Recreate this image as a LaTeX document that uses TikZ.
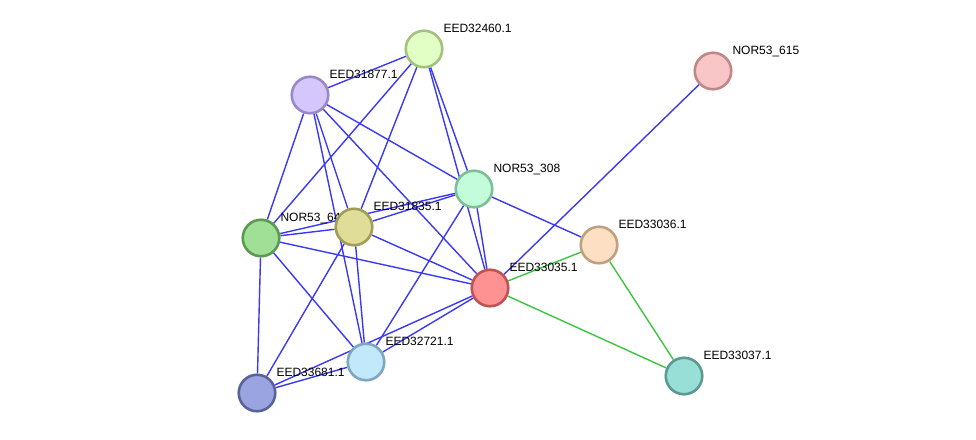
\documentclass[tikz,border=0pt]{standalone}
\usepackage{fontspec}
\setmainfont{Liberation Sans}
\usepackage{xcolor}
\usetikzlibrary{positioning, backgrounds}

\definecolor{linkblue}{HTML}{3A3AF4}
\definecolor{linkgreen}{HTML}{3EC43E}
\definecolor{fA}{HTML}{E2FFC6} \definecolor{bA}{HTML}{A2C27E}
\definecolor{fB}{HTML}{D5C6FB} \definecolor{bB}{HTML}{9A89C6}
\definecolor{fC}{HTML}{F8C6C6} \definecolor{bC}{HTML}{BF8888}
\definecolor{fD}{HTML}{C2FCDA} \definecolor{bD}{HTML}{7EBF98}
\definecolor{fE}{HTML}{DFDD98} \definecolor{bE}{HTML}{A09E56}
\definecolor{fF}{HTML}{A0E096} \definecolor{bF}{HTML}{5B9A50}
\definecolor{fG}{HTML}{FDDFC3} \definecolor{bG}{HTML}{C0A17F}
\definecolor{fH}{HTML}{FE9191} \definecolor{bH}{HTML}{BF5252}
\definecolor{fI}{HTML}{C2E8FC} \definecolor{bI}{HTML}{7FA6BF}
\definecolor{fJ}{HTML}{9AA4E0} \definecolor{bJ}{HTML}{59639A}
\definecolor{fK}{HTML}{98E0D7} \definecolor{bK}{HTML}{5A9A91}

\begin{document}
\begin{tikzpicture}[x=1pt, y=-1pt,
    prot/.style={draw, circle, minimum size=36.5pt, line width=2.6pt, inner sep=0pt},
    tag/.style={inner sep=0pt, text height=9pt, text depth=0pt, font=\fontsize{12}{14}\selectfont},
    link/.style={line width=1.4pt, draw=linkblue},
    hom/.style={line width=1.4pt, draw=linkgreen}]

    \begin{scope}[on background layer]
        \fill[white] (0,0) rectangle (976,439);
    \end{scope}
    \useasboundingbox (0,0) rectangle (976,439);

    % proteins
    \node[prot, fill=fA, draw=bA] (eed32460) at (424,49) {};
    \node[tag, above right=2.5pt and 5.5pt of eed32460] {EED32460.1};
    \node[prot, fill=fB, draw=bB] (eed31877) at (310,95) {};
    \node[tag, above right=2.5pt and 5.5pt of eed31877] {EED31877.1};
    \node[prot, fill=fC, draw=bC] (nor615) at (713,71) {};
    \node[tag, above right=2.5pt and 5.5pt of nor615] {NOR53\_615};
    \node[prot, fill=fD, draw=bD] (nor308) at (474,189) {};
    \node[tag, above right=2.5pt and 5.5pt of nor308] {NOR53\_308};
    \node[prot, fill=fF, draw=bF] (nor64) at (261,238) {};
    \node[tag, above right=2.5pt and 5.5pt of nor64] {NOR53\_64};
    \node[prot, fill=fE, draw=bE] (eed31835) at (354,227) {};
    \node[tag, above right=2.5pt and 5.5pt of eed31835] {EED31835.1};
    \node[prot, fill=fG, draw=bG] (eed33036) at (599,245) {};
    \node[tag, above right=2.5pt and 5.5pt of eed33036] {EED33036.1};
    \node[prot, fill=fH, draw=bH] (eed33035) at (490,288) {};
    \node[tag, above right=2.5pt and 5.5pt of eed33035] {EED33035.1};
    \node[prot, fill=fI, draw=bI] (eed32721) at (366,362) {};
    \node[tag, above right=2.5pt and 5.5pt of eed32721] {EED32721.1};
    \node[prot, fill=fJ, draw=bJ] (eed33681) at (257,393) {};
    \node[tag, above right=2.5pt and 5.5pt of eed33681] {EED33681.1};
    \node[prot, fill=fK, draw=bK] (eed33037) at (684,376) {};
    \node[tag, above right=2.5pt and 5.5pt of eed33037] {EED33037.1};

    % interactions
    \begin{scope}[on background layer]
        \draw[link] (eed31877) -- (eed32460);
        \draw[link] (eed31877) -- (nor64);
        \draw[link] (eed31877) -- (eed31835);
        \draw[link] (eed31877) -- (eed32721);
        \draw[link] (eed31877) -- (eed33035);
        \draw[link] (eed31877) -- (nor308);
        \draw[link] (eed32460) -- (nor64);
        \draw[link] (eed32460) -- (eed31835);
        \draw[link] (eed32460) -- (nor308);
        \draw[link] (eed32460) -- (eed33035);
        \draw[link] (nor64) -- (eed31835);
        \draw[link] (nor64) -- (nor308);
        \draw[link] (nor64) -- (eed33035);
        \draw[link] (nor64) -- (eed32721);
        \draw[link] (nor64) -- (eed33681);
        \draw[link] (eed31835) -- (eed33035);
        \draw[link] (eed31835) -- (eed33681);
        \draw[link] (eed31835) -- (eed32721);
        \draw[link] (eed31835) -- (nor308);
        \draw[link] (nor308) -- (eed33036);
        \draw[link] (nor308) -- (eed33035);
        \draw[link] (nor308) -- (eed32721);
        \draw[link] (eed33035) -- (nor615);
        \draw[link] (eed33035) -- (eed32721);
        \draw[link] (eed33035) -- (eed33681);
        \draw[link] (eed32721) -- (eed33681);
        \draw[hom] (eed33035) -- (eed33036);
        \draw[hom] (eed33035) -- (eed33037);
        \draw[hom] (eed33036) -- (eed33037);
    \end{scope}
\end{tikzpicture}
\end{document}
